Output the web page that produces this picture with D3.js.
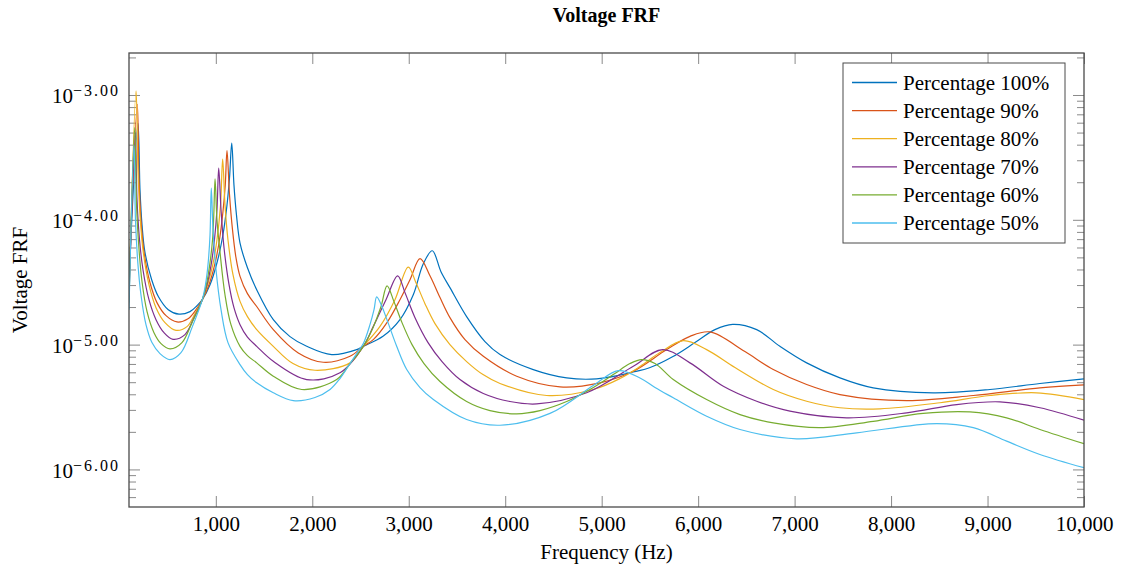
<!DOCTYPE html>
<html>
<head>
<meta charset="utf-8">
<script src="https://cdn.jsdelivr.net/npm/d3@7"></script>
<style>
body { margin: 0; background: #fff; }
text { font-family: "Liberation Serif", "Times New Roman", serif; }
</style>
</head>
<body>
<div class="svg"></div>
<script>
// FRF curves: [frequency in Hz, voltage FRF]
var p100 = [[100,3.31e-5],[193,5.94e-4],[214,1.74e-4],[235,9.12e-5],[266,5.45e-5],[335,3.31e-5],[404,2.43e-5],[507,1.905e-5],[618,1.754e-5],[732,1.837e-5],[805,2.05e-5],[860,2.29e-5],[940,3.02e-5],[1012,4.53e-5],[1074,7.59e-5],[1116,1.318e-4],[1142,2.17e-4],[1165,4.11e-4],[1188,1.905e-4],[1214,1.096e-4],[1251,6.51e-5],[1328,4.13e-5],[1424,2.75e-5],[1596,1.585e-5],[1769,1.159e-5],[1942,9.69e-6],[2201,8.32e-6],[2460,9.12e-6],[2529,9.69e-6],[2733,1.165e-5],[2909,1.585e-5],[3047,2.51e-5],[3151,4.45e-5],[3244,5.65e-5],[3334,3.84e-5],[3427,2.86e-5],[3600,1.675e-5],[3790,1.057e-5],[3946,8.32e-6],[4291,6.31e-6],[4637,5.41e-6],[4948,5.32e-6],[5328,6.03e-6],[5502,6.55e-6],[5739,8.02e-6],[5967,1.038e-5],[6174,1.318e-5],[6358,1.454e-5],[6607,1.318e-5],[6848,9.69e-6],[7125,7.14e-6],[7470,5.41e-6],[7815,4.50e-6],[8437,4.11e-6],[9025,4.37e-6],[9543,4.88e-6],[10000,5.32e-6]];
var p90 = [[100,2.91e-5],[186,8.43e-4],[204,2.09e-4],[224,1.0e-4],[255,5.55e-5],[318,3.13e-5],[390,2.17e-5],[484,1.706e-5],[598,1.519e-5],[712,1.614e-5],[795,1.905e-5],[860,2.29e-5],[929,3.02e-5],[991,4.45e-5],[1038,6.92e-5],[1074,1.159e-4],[1098,1.905e-4],[1116,3.58e-4],[1142,1.585e-4],[1173,8.32e-5],[1209,4.97e-5],[1251,3.52e-5],[1328,2.56e-5],[1424,2.02e-5],[1596,1.318e-5],[1855,8.58e-6],[2114,7.22e-6],[2391,8.06e-6],[2529,9.69e-6],[2632,1.096e-5],[2774,1.50e-5],[2909,2.29e-5],[3013,3.31e-5],[3117,4.88e-5],[3220,3.56e-5],[3324,2.38e-5],[3427,1.644e-5],[3583,1.096e-5],[3773,8.06e-6],[4119,5.58e-6],[4568,4.59e-6],[4983,4.94e-6],[5328,6.11e-6],[5674,9.12e-6],[5915,1.165e-5],[6123,1.264e-5],[6485,8.79e-6],[6779,6.31e-6],[7125,4.79e-6],[7470,3.98e-6],[8162,3.56e-6],[8852,3.91e-6],[9543,4.50e-6],[10000,4.76e-6]];
var p80 = [[100,2.61e-5],[173,1.077e-3],[193,2.51e-4],[214,1.096e-4],[245,5.75e-5],[307,3.02e-5],[380,1.977e-5],[473,1.50e-5],[587,1.301e-5],[701,1.393e-5],[784,1.77e-5],[860,2.29e-5],[919,3.08e-5],[971,4.45e-5],[1012,6.92e-5],[1049,1.318e-4],[1071,3.06e-4],[1095,1.318e-4],[1126,6.92e-5],[1178,3.63e-5],[1251,2.22e-5],[1328,1.675e-5],[1424,1.318e-5],[1596,9.69e-6],[1800,7.05e-6],[2028,6.23e-6],[2391,7.14e-6],[2529,9.69e-6],[2702,1.40e-5],[2857,2.29e-5],[2995,4.18e-5],[3075,3.13e-5],[3168,2.13e-5],[3272,1.472e-5],[3427,1.0e-5],[3600,7.31e-6],[3770,5.75e-6],[3946,4.88e-6],[4430,3.91e-6],[4913,4.37e-6],[5190,5.35e-6],[5397,6.67e-6],[5604,8.63e-6],[5846,1.077e-5],[6088,9.12e-6],[6382,6.55e-6],[6779,4.37e-6],[7125,3.52e-6],[7470,3.12e-6],[7885,3.06e-6],[8507,3.42e-6],[9025,3.91e-6],[9509,4.11e-6],[10000,3.63e-6]];
var p70 = [[100,2.38e-5],[165,4.97e-4],[183,1.445e-4],[209,6.92e-5],[245,3.98e-5],[307,2.29e-5],[380,1.585e-5],[463,1.247e-5],[556,1.103e-5],[680,1.202e-5],[774,1.644e-5],[860,2.29e-5],[909,3.02e-5],[950,4.29e-5],[986,6.92e-5],[1012,1.202e-4],[1030,2.59e-4],[1054,1.202e-4],[1085,5.97e-5],[1137,3.02e-5],[1188,1.977e-5],[1251,1.445e-5],[1328,1.148e-5],[1424,9.69e-6],[1596,7.35e-6],[1942,5.25e-6],[2287,5.94e-6],[2529,9.69e-6],[2633,1.40e-5],[2764,2.29e-5],[2885,3.56e-5],[2961,2.61e-5],[3065,1.644e-5],[3200,1.038e-5],[3345,7.31e-6],[3531,5.25e-6],[3773,4.06e-6],[4049,3.50e-6],[4326,3.35e-6],[4844,4.11e-6],[5328,6.70e-6],[5632,9.12e-6],[5915,7.14e-6],[6261,4.64e-6],[6607,3.52e-6],[6952,2.93e-6],[7540,2.59e-6],[8162,2.84e-6],[8680,3.31e-6],[9129,3.48e-6],[9543,3.12e-6],[10000,2.48e-6]];
var p60 = [[100,2.17e-5],[159,5.48e-4],[178,1.318e-4],[204,5.75e-5],[235,3.19e-5],[287,1.837e-5],[359,1.247e-5],[432,1.019e-5],[525,9.24e-6],[649,1.038e-5],[753,1.50e-5],[860,2.29e-5],[898,2.91e-5],[934,4.21e-5],[966,6.92e-5],[979,1.096e-4],[992,2.13e-4],[1012,1.0e-4],[1043,5.55e-5],[1095,2.51e-5],[1157,1.445e-5],[1251,9.69e-6],[1328,8.17e-6],[1424,7.14e-6],[1596,5.58e-6],[1890,4.37e-6],[2253,5.25e-6],[2391,7.05e-6],[2529,9.69e-6],[2629,1.368e-5],[2712,2.01e-5],[2775,2.96e-5],[2847,2.21e-5],[2930,1.50e-5],[3034,1.0e-5],[3158,7.05e-6],[3324,5.06e-6],[3600,3.50e-6],[3842,2.96e-6],[4119,2.79e-6],[4360,2.96e-6],[4637,3.50e-6],[4878,4.37e-6],[5120,5.75e-6],[5293,7.05e-6],[5414,7.59e-6],[5553,7.05e-6],[5742,5.25e-6],[6088,3.63e-6],[6434,2.75e-6],[6779,2.36e-6],[7263,2.16e-6],[7815,2.43e-6],[8333,2.81e-6],[8818,2.89e-6],[9198,2.59e-6],[9543,2.09e-6],[10000,1.606e-6]];
var p50 = [[100,1.905e-5],[152,3.98e-4],[167,1.0e-4],[193,4.37e-5],[224,2.51e-5],[276,1.445e-5],[338,1.038e-5],[421,8.47e-6],[525,7.59e-6],[639,8.63e-6],[753,1.368e-5],[860,2.29e-5],[893,3.02e-5],[919,4.37e-5],[940,7.59e-5],[953,1.793e-4],[971,8.32e-5],[1002,3.98e-5],[1054,1.905e-5],[1126,1.038e-5],[1251,6.92e-6],[1328,5.75e-6],[1424,4.94e-6],[1596,4.11e-6],[1803,3.56e-6],[2028,3.77e-6],[2184,4.37e-6],[2287,5.35e-6],[2391,7.05e-6],[2474,8.79e-6],[2529,1.019e-5],[2598,1.445e-5],[2640,1.905e-5],[2668,2.41e-5],[2723,2.01e-5],[2774,1.585e-5],[2875,9.69e-6],[2979,6.31e-6],[3117,4.53e-6],[3255,3.63e-6],[3600,2.51e-6],[3946,2.26e-6],[4464,2.81e-6],[4913,4.70e-6],[5172,6.19e-6],[5397,5.41e-6],[5553,4.53e-6],[5742,3.75e-6],[6088,2.67e-6],[6434,2.09e-6],[7021,1.76e-6],[7643,1.966e-6],[8473,2.33e-6],[8852,2.16e-6],[9198,1.684e-6],[9543,1.318e-6],[10000,1.032e-6]];

var seriesNames = ["Percentage 100%", "Percentage 90%", "Percentage 80%", "Percentage 70%", "Percentage 60%", "Percentage 50%"];
var seriesData = [p100, p90, p80, p70, p60, p50];
var freqTicks = [1000, 2000, 3000, 4000, 5000, 6000, 7000, 8000, 9000, 10000];
var yMajorTicks = [1e-3, 1e-4, 1e-5, 1e-6];

var palette = ["#0072bd", "#d95319", "#edb120", "#7e2f8e", "#77ac30", "#4dbeee"];

var width = 1121, height = 567;
var margin = {top: 53, right: 37, bottom: 60, left: 129};

var svg = d3.select(".svg").append("svg").attr("width", width).attr("height", height);

var x = d3.scaleLinear().domain([100, 10000]).range([margin.left, width - margin.right]);
var y = d3.scaleLog().domain([5e-7, 2.17e-3]).range([height - margin.bottom, margin.top]);

// minor ticks 2..9 in every decade that is on screen
var yMinorTicks = [];
for (var e = -7; e <= -3; e++) {
    for (var m = 2; m <= 9; m++) {
        var v = m * Math.pow(10, e);
        if (v > y.domain()[0] && v < y.domain()[1]) yMinorTicks.push(v);
    }
}

svg.append("clipPath").attr("id", "plot-clip").append("rect")
    .attr("x", margin.left).attr("y", margin.top)
    .attr("width", width - margin.left - margin.right)
    .attr("height", height - margin.top - margin.bottom);

function styleTicks(g) {
    g.select(".domain").remove();
    g.selectAll(".tick line").attr("stroke", "#8a8a8a").attr("stroke-width", 1);
}

// x axis, bottom with labels, top ticks only
svg.append("g").attr("transform", "translate(0," + (height - margin.bottom) + ")")
    .call(d3.axisBottom(x).tickValues(freqTicks).tickSize(-11).tickPadding(9).tickFormat(d3.format(",")))
    .call(styleTicks)
    .selectAll("text").attr("font-size", "21px").attr("fill", "#000")
    .attr("font-family", "Liberation Serif, serif");

svg.append("g").attr("transform", "translate(0," + margin.top + ")")
    .call(d3.axisTop(x).tickValues(freqTicks).tickSize(-11).tickFormat(""))
    .call(styleTicks);

// y axis, left and right, major + minor
svg.append("g").attr("transform", "translate(" + margin.left + ",0)")
    .call(d3.axisLeft(y).tickValues(yMinorTicks).tickSize(-7).tickFormat(""))
    .call(styleTicks);
svg.append("g").attr("transform", "translate(" + (width - margin.right) + ",0)")
    .call(d3.axisRight(y).tickValues(yMinorTicks).tickSize(-7).tickFormat(""))
    .call(styleTicks);
svg.append("g").attr("transform", "translate(" + (width - margin.right) + ",0)")
    .call(d3.axisRight(y).tickValues(yMajorTicks).tickSize(-11).tickFormat(""))
    .call(styleTicks);

var yLeft = svg.append("g").attr("transform", "translate(" + margin.left + ",0)")
    .call(d3.axisLeft(y).tickValues(yMajorTicks).tickSize(-11).tickPadding(9).tickFormat(""))
    .call(styleTicks);

yLeft.selectAll(".tick").each(function(d) {
    var t = d3.select(this).append("text")
        .attr("x", -9).attr("y", 8)
        .attr("text-anchor", "end")
        .attr("fill", "#000");
    t.append("tspan").attr("font-size", "21px").text("10");
    t.append("tspan").attr("font-size", "16px").attr("dy", -7).attr("letter-spacing", "2px")
        .text("\u2212" + Math.abs(Math.log10(d)).toFixed(2));
});

// curves
var line = d3.line()
    .x(function(d) { return x(d[0]); })
    .y(function(d) { return y(d[1]); })
    .curve(d3.curveCatmullRom.alpha(0.5));

svg.append("g").attr("clip-path", "url(#plot-clip)")
    .selectAll("path").data(seriesData).enter().append("path")
    .attr("d", line)
    .attr("fill", "none")
    .attr("stroke", function(d, i) { return palette[i]; })
    .attr("stroke-width", 1.2)
    .attr("stroke-linejoin", "round");

// frame
svg.append("rect")
    .attr("x", margin.left).attr("y", margin.top)
    .attr("width", width - margin.left - margin.right)
    .attr("height", height - margin.top - margin.bottom)
    .attr("fill", "none").attr("stroke", "#4a4a4a").attr("stroke-width", 1.3);

// legend
var legend = svg.append("g").attr("transform", "translate(843,63)");
legend.append("rect").attr("width", 222).attr("height", 180)
    .attr("fill", "#fff").attr("stroke", "#4a4a4a").attr("stroke-width", 1);
seriesNames.forEach(function(name, i) {
    var cy = 19.5 + i * 28.1;
    legend.append("line").attr("x1", 9).attr("x2", 54).attr("y1", cy).attr("y2", cy)
        .attr("stroke", palette[i]).attr("stroke-width", 1.3);
    legend.append("text").attr("x", 60).attr("y", cy + 7).attr("font-size", "21px").text(name);
});

// titles
svg.append("text").attr("x", (margin.left + width - margin.right) / 2).attr("y", 22)
    .attr("text-anchor", "middle").attr("font-size", "20px").attr("font-weight", "bold").text("Voltage FRF");
svg.append("text").attr("x", (margin.left + width - margin.right) / 2).attr("y", 559)
    .attr("text-anchor", "middle").attr("font-size", "21px").text("Frequency (Hz)");
svg.append("text").attr("transform", "translate(27," + ((margin.top + height - margin.bottom) / 2) + ") rotate(-90)")
    .attr("text-anchor", "middle").attr("font-size", "21px").text("Voltage FRF");
</script>
</body>
</html>
